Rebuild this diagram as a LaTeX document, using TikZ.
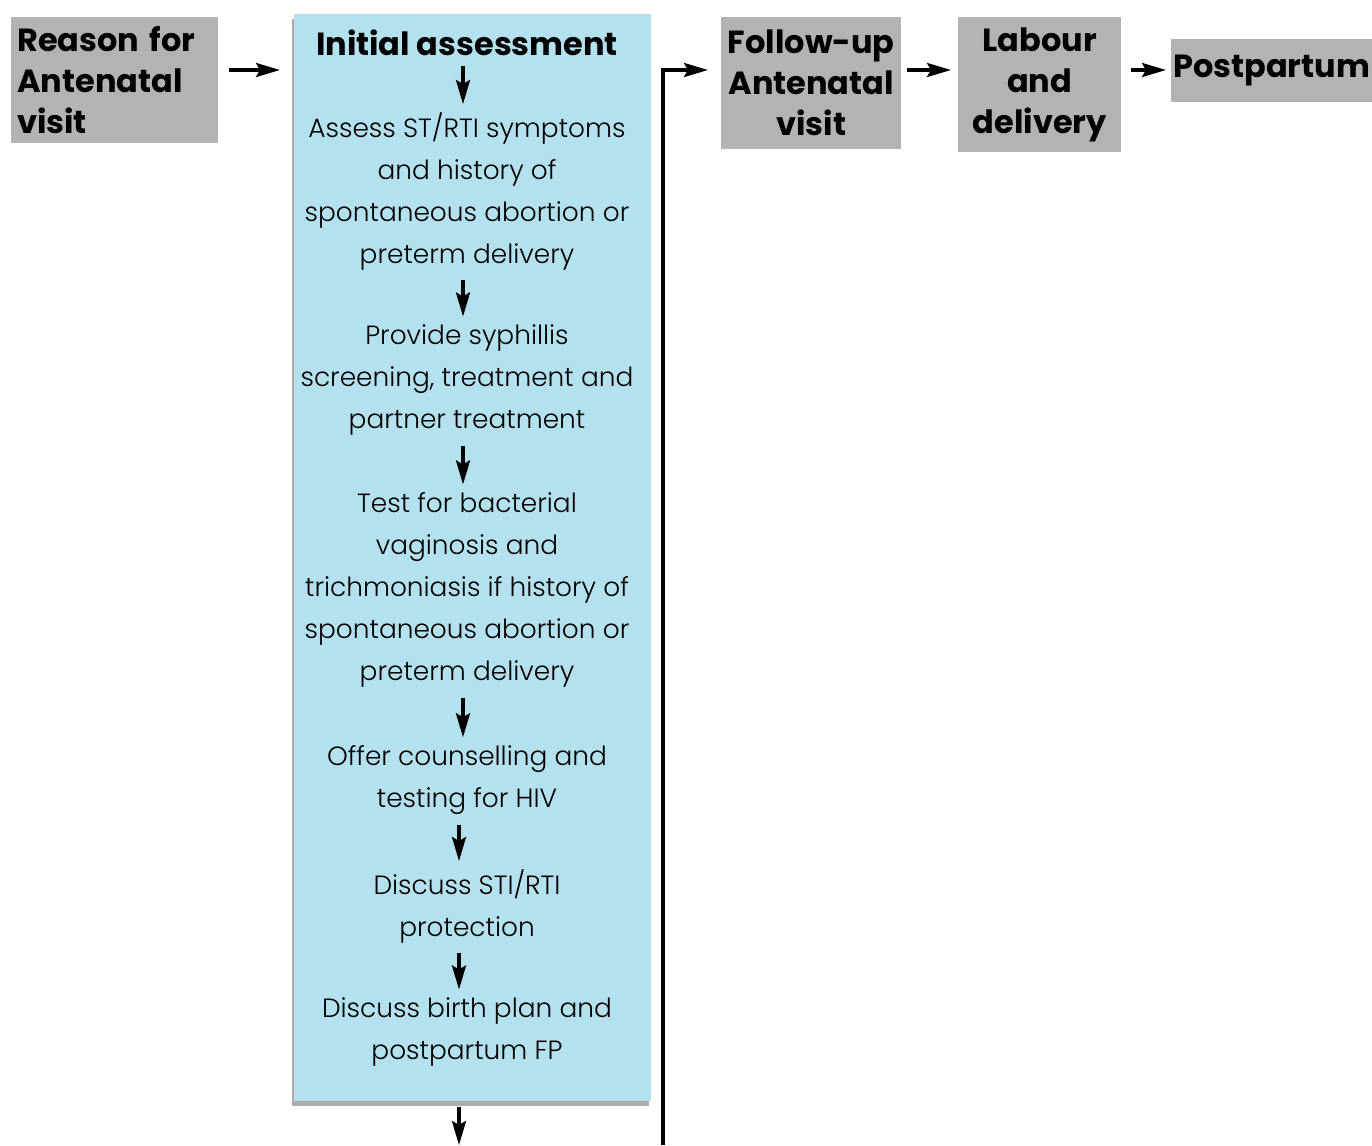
\documentclass[tikz,border=0pt]{standalone}
\usepackage{fontspec}
\setmainfont{Poppins}[UprightFont=* Light, BoldFont=* Bold]
\usetikzlibrary{arrows.meta,shadows}
\definecolor{boxgray}{RGB}{179,179,179}
\definecolor{iablue}{RGB}{179,225,238}
\definecolor{shgray}{RGB}{172,172,172}
\newcommand{\headfont}{\fontsize{32}{41}\selectfont\bfseries}
\newcommand{\bodyfont}{\fontsize{26.4}{42}\selectfont}
\tikzset{
  graybox/.style={fill=boxgray, inner sep=0pt, font=\headfont, align=center, anchor=north west},
  bodytext/.style={font=\bodyfont, align=center, inner sep=0pt},
  arr/.style={line width=3.2pt, -{Stealth[length=24pt,width=14pt,inset=4pt]}},
  inarr/.style={arr, shorten <=10pt, shorten >=8pt}
}
\begin{document}
\begin{tikzpicture}[x=1pt,y=-1pt]
\useasboundingbox (0,0) rectangle (1372,1145);
% gray boxes
\node[graybox, minimum width=207pt, minimum height=126pt, text width=195pt, align=left] (reason) at (11,17) {Reason for\\Antenatal\\visit};
\node[graybox, minimum width=180pt, minimum height=132pt] (fu) at (721,17) {Follow-up\\Antenatal\\visit};
\node[graybox, minimum width=163pt, minimum height=135pt] (ld) at (958,17) {Labour\\and\\delivery};
\node[graybox, minimum width=201pt, minimum height=63pt] (pp) at (1171,39) {Postpartum};
% blue box
\node[fill=iablue, inner sep=0pt, minimum width=357pt, minimum height=1087pt, anchor=north west,
      drop shadow={shadow xshift=-2pt, shadow yshift=-5pt, fill=shgray, opacity=1}] (ia) at (294,14) {};
\node[font=\headfont, inner sep=0pt] (t0) at (467,43) {Initial assessment};
\node[bodytext] (b1) at (467,191) {Assess ST/RTI symptoms\\and history of\\spontaneous abortion or\\preterm delivery};
\node[bodytext] (b2) at (467,380) {Provide syphillis\\screening, treatment and\\partner treatment};
\node[bodytext] (b3) at (467,590) {Test for bacterial\\vaginosis and\\trichmoniasis if history of\\spontaneous abortion or\\preterm delivery};
\node[bodytext] (b4) at (467,780) {Offer counselling and\\testing for HIV};
\node[bodytext] (b5) at (467,906) {Discuss STI/RTI\\protection};
\node[bodytext] (b6) at (467,1032) {Discuss birth plan and\\postpartum FP};
% inner arrows
\draw[inarr] ([xshift=-4pt]t0.south) -- ([xshift=-4pt]b1.north);
\draw[inarr] ([xshift=-4pt]b1.south) -- ([xshift=-4pt]b2.north);
\draw[inarr] ([xshift=-4pt]b2.south) -- ([xshift=-4pt]b3.north);
\draw[inarr] ([xshift=-4pt]b3.south) -- ([xshift=-4pt]b4.north);
\draw[inarr] ([xshift=-8pt]b4.south) -- ([xshift=-8pt]b5.north);
\draw[inarr] ([xshift=-8pt]b5.south) -- ([xshift=-8pt]b6.north);
% top row
\coordinate (row) at (0,70);
\coordinate (loopstart) at (663,1145);
\coordinate (iaout) at (459,1145);
\draw[arr, shorten <=11pt, shorten >=14pt] (reason.east |- row) -- (ia.west |- row);
\draw[arr, shorten >=13pt] (loopstart) |- (fu.west |- row);
\draw[arr, shorten <=6pt, shorten >=7pt] (fu.east |- row) -- (ld.west |- row);
\draw[arr, shorten <=10pt, shorten >=5pt] (ld.east |- row) -- (pp.west |- row);
\draw[arr, shorten <=6pt] (iaout |- ia.south) -- (iaout);
\end{tikzpicture}
\end{document}
